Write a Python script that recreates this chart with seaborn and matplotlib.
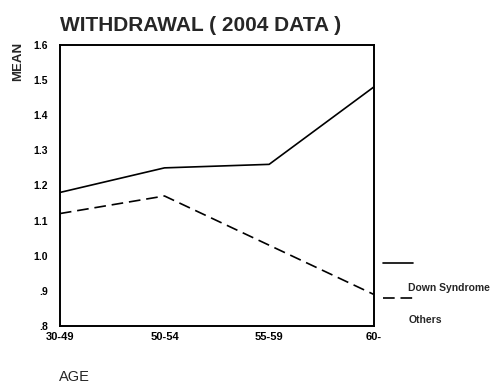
import matplotlib
matplotlib.use("Agg")
import matplotlib.pyplot as plt
import seaborn as sns
import pandas as pd
from matplotlib.lines import Line2D

ages = ["30-49", "50-54", "55-59", "60-"]
down_syndrome = [1.18, 1.25, 1.26, 1.48]
others = [1.12, 1.17, 1.03, 0.89]
groups = ["Down Syndrome", "Others"]
y_ticks = [0.8, 0.9, 1.0, 1.1, 1.2, 1.3, 1.4, 1.5, 1.6]
y_tick_labels = [".8", ".9", "1.0", "1.1", "1.2", "1.3", "1.4", "1.5", "1.6"]

df = pd.DataFrame({
    "AGE": ages * 2,
    "MEAN": down_syndrome + others,
    "group": [groups[0]] * len(ages) + [groups[1]] * len(ages),
})

sns.set_style("white")
plt.rcParams["font.family"] = ["Liberation Sans", "DejaVu Sans"]

fig = plt.figure(figsize=(4.99, 3.90), dpi=100)
ax = fig.add_axes([0.120, 0.164, 0.629, 0.721])

sns.lineplot(data=df, x="AGE", y="MEAN", style="group", style_order=groups,
             dashes={groups[0]: "", groups[1]: (7, 3.5)}, color="black",
             linewidth=1.2, sort=False, legend=False, ax=ax)

ax.set_xlim(0, len(ages) - 1)
ax.set_ylim(0.8, 1.6)
ax.set_yticks(y_ticks)
ax.set_yticklabels(y_tick_labels)
ax.set_xticks(range(len(ages)))
ax.set_xticklabels(ages)
ax.set_xlabel("")
ax.set_ylabel("")
for s in ax.spines.values():
    s.set_visible(True)
    s.set_color("black")
    s.set_linewidth(1.4)
ax.tick_params(axis="both", direction="inout", length=3, width=1.2,
               colors="black")
ax.tick_params(axis="y", labelsize=7.5, pad=7)
ax.tick_params(axis="x", labelsize=8, pad=3)
for lab in ax.get_xticklabels() + ax.get_yticklabels():
    lab.set_fontweight("bold")

ax.set_title("WITHDRAWAL ( 2004 DATA )", loc="left", fontsize=15, pad=10,
             fontweight="bold")
fig.text(0.036, 1 - 42 / 390, "MEAN", rotation=90, ha="center", va="top",
         fontsize=9.5, fontweight="bold")
fig.text(0.118, 1 - 377 / 390, "AGE", ha="left", va="center", fontsize=10.5)

# legend drawn in the right margin
leg_x0, leg_x1 = 0.768, 0.828
fig.add_artist(Line2D([leg_x0, leg_x1], [1 - 263 / 390] * 2, color="black",
                      linewidth=1.2))
fig.text(0.818, 1 - 288 / 390, groups[0], ha="left", va="center", fontsize=7.5,
         fontweight="bold")
fig.add_artist(Line2D([leg_x0, leg_x1], [1 - 298 / 390] * 2, color="black",
                      linewidth=1.2, dashes=(7, 3.5)))
fig.text(0.818, 1 - 320 / 390, groups[1], ha="left", va="center", fontsize=7.5,
         fontweight="bold")

fig.savefig("out.png", dpi=100)
